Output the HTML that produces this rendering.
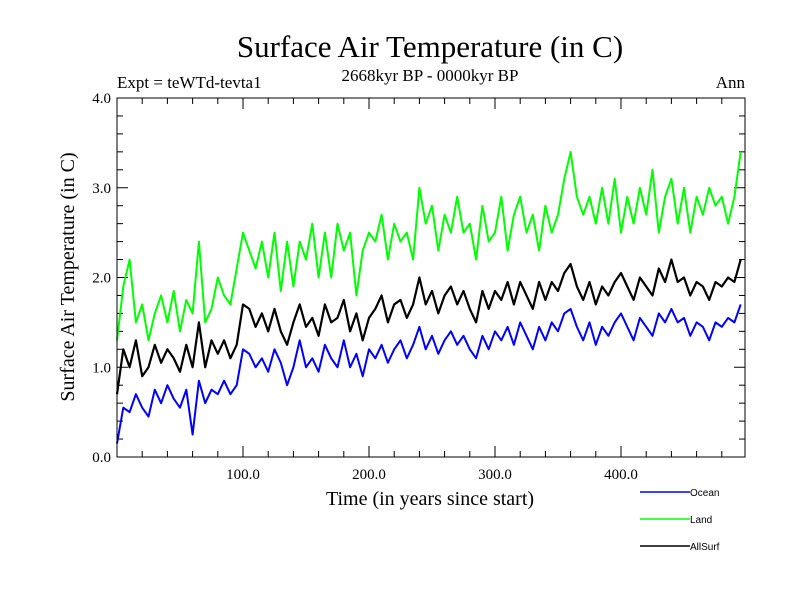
<!DOCTYPE html>
<html><head><meta charset="utf-8"><style>
body{margin:0;background:#fff}
svg{display:block}
</style></head><body>
<svg id="chart" width="800" height="600" xmlns="http://www.w3.org/2000/svg" font-family="Liberation Serif, serif">
<rect width="800" height="600" fill="#fff"/>
<text x="430" y="57" font-size="31" text-anchor="middle">Surface Air Temperature (in C)</text>
<text x="430" y="81" font-size="17" text-anchor="middle">2668kyr BP - 0000kyr BP</text>
<text x="117" y="88" font-size="17">Expt = teWTd-tevta1</text>
<text x="745" y="88" font-size="17" text-anchor="end">Ann</text>
<text transform="translate(74,277) rotate(-90)" font-size="20" text-anchor="middle">Surface Air Temperature (in C)</text>
<text x="430" y="505" font-size="20" text-anchor="middle">Time (in years since start)</text>
<g id="ticks"></g>
<g id="series"></g>
<rect x="117" y="98" width="628" height="359" fill="none" stroke="#000" stroke-width="1"/>
<g id="legend" font-family="Liberation Sans, sans-serif" font-size="10"></g>
</svg>
<script>
const years=[];for(let i=0;i<100;i++)years.push(i*5);
const ocean=[0.15,0.55,0.5,0.7,0.55,0.45,0.75,0.6,0.8,0.65,0.55,0.75,0.25,0.85,0.6,0.75,0.7,0.85,0.7,0.8,
1.2,1.15,1.0,1.1,0.95,1.2,1.05,0.8,1.0,1.3,1.0,1.1,0.95,1.25,1.1,1.0,1.3,1.0,1.15,0.9,
1.2,1.1,1.25,1.05,1.2,1.3,1.1,1.25,1.45,1.2,1.35,1.15,1.3,1.4,1.25,1.35,1.2,1.1,1.35,1.2,
1.4,1.3,1.45,1.25,1.5,1.35,1.2,1.45,1.3,1.5,1.4,1.6,1.65,1.45,1.3,1.5,1.25,1.45,1.35,1.5,
1.6,1.45,1.3,1.55,1.45,1.35,1.6,1.5,1.65,1.5,1.55,1.35,1.5,1.45,1.3,1.5,1.45,1.55,1.5,1.7];
const land=[1.3,1.9,2.2,1.5,1.7,1.3,1.6,1.8,1.5,1.85,1.4,1.75,1.6,2.4,1.5,1.65,2.0,1.8,1.7,2.1,
2.5,2.3,2.1,2.4,2.0,2.5,1.85,2.4,1.9,2.4,2.2,2.6,2.0,2.5,2.0,2.6,2.3,2.5,1.8,2.3,
2.5,2.4,2.7,2.2,2.6,2.4,2.5,2.2,3.0,2.6,2.8,2.3,2.7,2.5,2.9,2.5,2.6,2.2,2.8,2.4,
2.5,2.9,2.3,2.7,2.9,2.5,2.7,2.3,2.8,2.5,2.7,3.1,3.4,2.9,2.7,2.9,2.6,3.0,2.6,3.1,
2.5,2.9,2.6,3.0,2.7,3.2,2.5,2.9,3.1,2.6,3.0,2.5,2.9,2.7,3.0,2.8,2.9,2.6,2.9,3.4];
const allsurf=[0.7,1.2,1.0,1.3,0.9,1.0,1.25,1.05,1.2,1.1,0.95,1.25,1.0,1.5,1.0,1.3,1.15,1.3,1.1,1.25,
1.7,1.65,1.45,1.6,1.4,1.65,1.4,1.25,1.5,1.7,1.45,1.55,1.35,1.7,1.5,1.55,1.75,1.4,1.6,1.3,
1.55,1.65,1.8,1.5,1.7,1.75,1.55,1.7,2.0,1.7,1.85,1.6,1.8,1.9,1.7,1.85,1.65,1.5,1.85,1.65,
1.85,1.75,1.95,1.7,1.95,1.8,1.65,1.95,1.75,1.95,1.85,2.05,2.15,1.9,1.75,1.95,1.7,1.9,1.8,1.95,
2.05,1.9,1.75,2.0,1.9,1.8,2.1,1.95,2.2,1.95,2.0,1.8,1.95,1.9,1.75,1.95,1.9,2.0,1.95,2.2];
const xTickLabels=["100.0","200.0","300.0","400.0"];
const xTickValues=[100,200,300,400];
const yTickLabels=["0.0","1.0","2.0","3.0","4.0"];
const yTickValues=[0,1,2,3,4];
const seriesNames=["Ocean","Land","AllSurf"];
const NS="http://www.w3.org/2000/svg";
const X0=117,X1=747,Y0=457,Y1=98;
const xs=v=>X0+(X1-X0)*v/500;
const ys=v=>Y0-(Y0-Y1)*v/4;
const tg=document.getElementById('ticks');
function line(p,x1,y1,x2,y2,c,w){const l=document.createElementNS(NS,'line');l.setAttribute('x1',x1);l.setAttribute('y1',y1);l.setAttribute('x2',x2);l.setAttribute('y2',y2);l.setAttribute('stroke',c);l.setAttribute('stroke-width',w);p.appendChild(l);return l;}
for(let v=20;v<500;v+=20){const x=xs(v);const maj=v%100===0;const L=maj?11:6;
const a=line(tg,x,Y0,x,Y0-L,'#000',1);


const b=line(tg,x,Y1,x,Y1+L,'#000',1);

}
for(let k=1;k<20;k++){const v=k*0.2;const y=ys(v);const maj=k%5===0;const L=maj?11:6;
const a=line(tg,X0,y,X0+L,y,'#000',1);


const b=line(tg,745,y,745-L,y,'#000',1);

}
xTickValues.forEach((v,i)=>{const t=document.createElementNS(NS,'text');t.setAttribute('x',xs(v));t.setAttribute('y',Y0+22);t.setAttribute('text-anchor','middle');t.setAttribute('font-size','15');t.textContent=xTickLabels[i];


tg.appendChild(t);});
yTickValues.forEach((v,i)=>{const t=document.createElementNS(NS,'text');t.setAttribute('x',X0-6);t.setAttribute('y',ys(v)+5);t.setAttribute('text-anchor','end');t.setAttribute('font-size','15');t.textContent=yTickLabels[i];


tg.appendChild(t);});
const sg=document.getElementById('series');
const lg=document.getElementById('legend');
const colors=["#0000ff","#00ff00","#000000"];
const widths=[2,2,2.2];
[ocean,land,allsurf].forEach((arr,si)=>{
const p=document.createElementNS(NS,'polyline');
p.setAttribute('points',arr.map((v,i)=>xs(years[i])+','+ys(v)).join(' '));
p.setAttribute('fill','none');p.setAttribute('stroke',colors[si]);p.setAttribute('stroke-width',widths[si]);p.setAttribute('stroke-linejoin','round');


sg.appendChild(p);
const ly=492+si*27;
const l=line(lg,640,ly,690,ly,colors[si],1.5);


const t=document.createElementNS(NS,'text');t.setAttribute('x',690);t.setAttribute('y',ly+4);t.textContent=seriesNames[si];


lg.appendChild(t);
});
</script>
</body></html>
